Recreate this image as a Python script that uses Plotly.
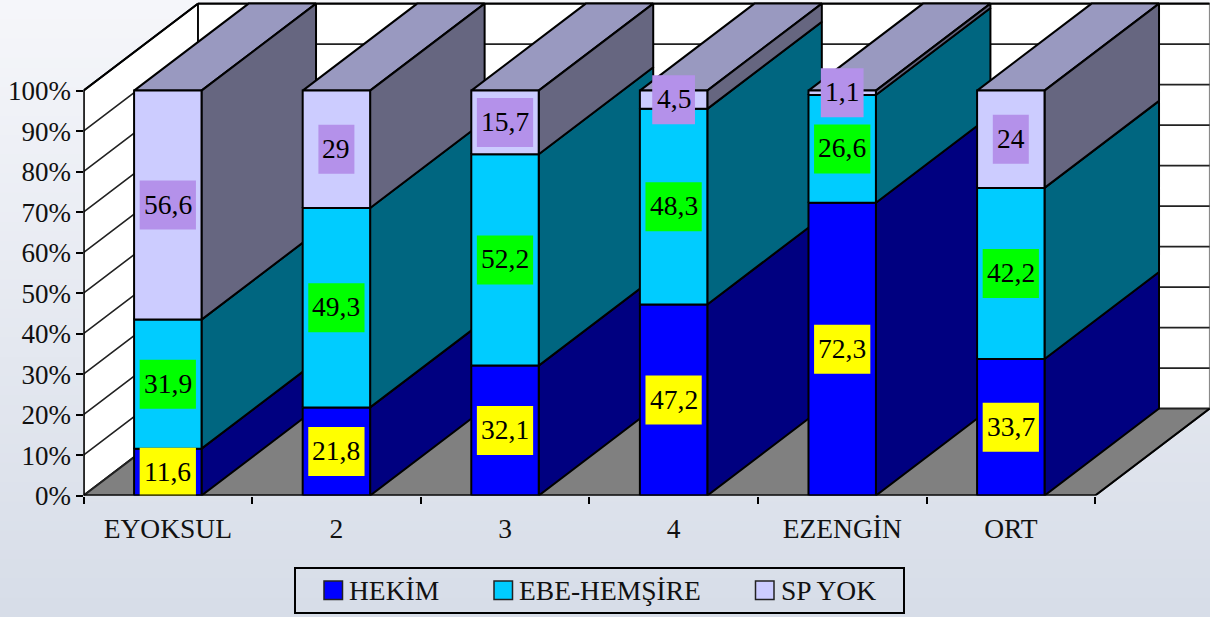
import plotly.graph_objects as go

# Income groups and the share of births attended by each kind of provider
CATEGORIES = ["EYOKSUL", "2", "3", "4", "EZENGİN", "ORT"]
HEKIM = [11.6, 21.8, 32.1, 47.2, 72.3, 33.7]
EBE_HEMSIRE = [31.9, 49.3, 52.2, 48.3, 26.6, 42.2]
SP_YOK = [56.6, 29, 15.7, 4.5, 1.1, 24]
SERIES_NAMES = ["HEKİM", "EBE-HEMŞİRE", "SP YOK"]
Y_TICKS = [0, 10, 20, 30, 40, 50, 60, 70, 80, 90, 100]

W, H = 1210, 617
FONT = "Liberation Serif"
FONT_SIZE = 27.5
INK = "#000000"

# Pixel calibration of the oblique box
X0_PX, CAT_PX = 83.5, 168.6
Y0_PX, PCT_PX = 495.6, 4.05
DX = 114.5 / CAT_PX   # depth offset in category units
DY = 87 / PCT_PX      # depth offset in percent units
BAR_W = 0.4

FRONT = ["#0000FF", "#00CCFF", "#CCCCFF"]
SIDE = ["#000080", "#006680", "#666680"]
TOP = "#9999C0"
LABEL_BG = ["#FFFF00", "#00FF00", "#B491EA"]

fig = go.Figure()
shapes = []


def px(x):
    return x / W


def py(y):
    return 1 - y / H


def face(xs, ys, fill, line=INK, width=2):
    fig.add_trace(go.Scatter(
        x=list(xs) + [xs[0]], y=list(ys) + [ys[0]], mode="lines", fill="toself",
        fillcolor=fill, line=dict(color=line, width=width), hoverinfo="skip",
        showlegend=False))


def stroke(xs, ys, color=INK, width=1.8):
    fig.add_trace(go.Scatter(
        x=xs, y=ys, mode="lines", line=dict(color=color, width=width),
        hoverinfo="skip", showlegend=False))


# Vertical background wash
BANDS = 64
TOP_RGB, BOTTOM_RGB = (245, 246, 250), (215, 221, 232)
for b in range(BANDS):
    t = b / (BANDS - 1)
    rgb = [round(a + (c - a) * t) for a, c in zip(TOP_RGB, BOTTOM_RGB)]
    shapes.append(dict(
        type="rect", xref="paper", yref="paper", x0=0, x1=1,
        y0=py((b + 1) * H / BANDS + 1), y1=py(b * H / BANDS),
        fillcolor=f"rgb({rgb[0]},{rgb[1]},{rgb[2]})", line=dict(width=0), layer="below"))

n = len(CATEGORIES)

# Walls and floor of the box
face([0, DX, DX, 0], [0, DY, 100 + DY, 100], "#FFFFFF")
face([DX, n + DX, n + DX, DX], [DY, DY, 100 + DY, 100 + DY], "#FFFFFF", line="#8a8a8a", width=1.4)
for t in Y_TICKS[1:-1]:
    stroke([0, DX, n + DX], [t, t + DY, t + DY], color="#222222", width=1.6)
stroke([DX, n + DX], [100 + DY, 100 + DY], width=2.4)
stroke([0, DX, DX], [100, 100 + DY, DY])
face([0, n, n + DX, DX], [0, 0, DY, DY], "#808080", line="#222222")
stroke([n, n + DX], [0, DY])

# Stacked columns, left to right so nearer columns overlap the sides of earlier ones
for i in range(n):
    vals = [HEKIM[i], EBE_HEMSIRE[i], SP_YOK[i]]
    total = sum(vals)
    left, right = i + 0.5 - BAR_W / 2, i + 0.5 + BAR_W / 2
    base = 0
    spans = []
    for v in vals:
        spans.append((base, base + v / total * 100))
        base = spans[-1][1]
    face([left, right, right + DX, left + DX], [100, 100, 100 + DY, 100 + DY], TOP)
    for k, (lo, hi) in enumerate(spans):
        face([right, right + DX, right + DX, right], [lo, lo + DY, hi + DY, hi], SIDE[k])
    for k, (lo, hi) in enumerate(spans):
        face([left, right, right, left], [lo, lo, hi, hi], FRONT[k])
    for k, (lo, hi) in enumerate(spans):
        text = f"{vals[k]:g}".replace(".", ",")
        digits = sum(c.isdigit() for c in text)
        half = (digits * 13.5 + (len(text) - digits) * 6.75 + 9) / 2
        # Value tag: a pixel-sized box anchored on the middle of its segment
        shapes.append(dict(
            type="rect", xref="x", yref="y", xsizemode="pixel", ysizemode="pixel",
            xanchor=i + 0.5, yanchor=(lo + hi) / 2, x0=-half, x1=half, y0=-24.5, y1=24.5,
            fillcolor=LABEL_BG[k], line=dict(width=0), layer="above"))
        fig.add_annotation(
            x=i + 0.5, y=(lo + hi) / 2, text=text, showarrow=False, yshift=1,
            xanchor="center", yanchor="middle", borderpad=0,
            font=dict(family=FONT, size=FONT_SIZE, color=INK))

# Axis lines stop at the front edge of the box and sit over the value tags
shapes.append(dict(type="line", xref="x", yref="y", x0=0, x1=n, y0=0, y1=0,
                   line=dict(color=INK, width=2.4), layer="above"))
shapes.append(dict(type="line", xref="x", yref="y", x0=0, x1=0, y0=0, y1=100,
                   line=dict(color=INK, width=2.4), layer="above"))

fig.update_xaxes(
    automargin=False,
    domain=[X0_PX / W, 1], range=[0, (W - X0_PX) / CAT_PX], showgrid=False, zeroline=False,
    showline=False, tickmode="array", tickvals=[i + 0.5 for i in range(n)], ticktext=CATEGORIES,
    ticks="outside", ticklen=8, tickcolor="rgba(0,0,0,0)", tickwidth=1,
    tickfont=dict(family=FONT, size=FONT_SIZE, color="#111111"),
    minor=dict(tickmode="array", tickvals=list(range(n + 1)), ticks="outside", ticklen=7,
               tickwidth=2, tickcolor=INK, showgrid=False))
fig.update_yaxes(
    automargin=False,
    domain=[(H - Y0_PX) / H, 1], range=[0, Y0_PX / PCT_PX], showgrid=False, zeroline=False,
    showline=False, tickmode="array", tickvals=Y_TICKS, ticktext=[f"{t}%" for t in Y_TICKS],
    ticks="outside", ticklen=7, tickwidth=2, tickcolor=INK, ticklabelstandoff=-1,
    tickfont=dict(family=FONT, size=27, color="#111111"))

# Legend frame, swatches and entries
shapes.append(dict(type="rect", xref="paper", yref="paper", x0=px(295), x1=px(904),
                   y0=py(613), y1=py(568), line=dict(color=INK, width=2), fillcolor="rgba(0,0,0,0)"))
for name, color, sw_x, tx_x in zip(SERIES_NAMES, FRONT, [324, 494, 755.5], [348, 518, 780]):
    shapes.append(dict(type="rect", xref="paper", yref="paper", x0=px(sw_x), x1=px(sw_x + 18.5),
                       y0=py(599.5), y1=py(581), fillcolor=color, line=dict(color="#222222", width=1.5)))
    fig.add_annotation(xref="paper", yref="paper", x=px(tx_x), y=py(590), text=name,
                       showarrow=False, xanchor="left", yanchor="middle", borderpad=0,
                       font=dict(family=FONT, size=FONT_SIZE, color="#111111"))

fig.update_layout(
    width=W, height=H, autosize=False, margin=dict(l=0, r=0, t=0, b=0, pad=0),
    paper_bgcolor="#E4E7EF", plot_bgcolor="rgba(0,0,0,0)", showlegend=False,
    shapes=shapes)

fig.write_html("out.html", config=dict(displayModeBar=False))
